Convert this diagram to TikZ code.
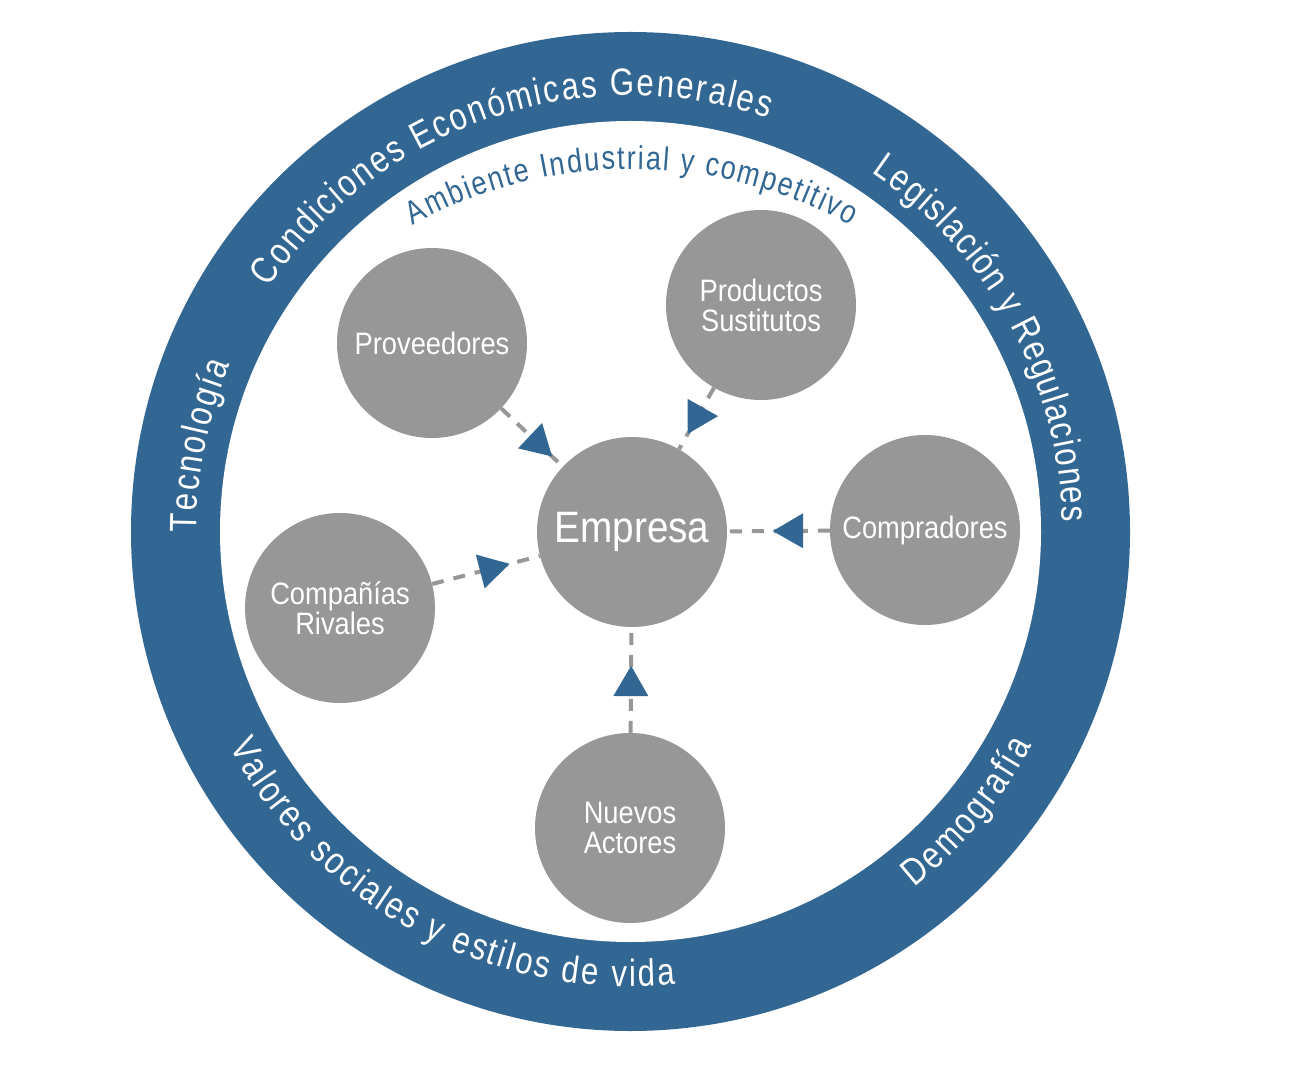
\documentclass[tikz,border=0pt]{standalone}
\usepackage{fontspec}
\setmainfont{Liberation Sans}
\newfontfamily\ringfam[FakeStretch=0.82]{Liberation Sans}
\newfontfamily\nodefam[FakeStretch=0.88]{Liberation Sans}
\usetikzlibrary{calc,decorations.text,decorations.markings}
\definecolor{ringblue}{RGB}{50,103,147}
\definecolor{circgray}{RGB}{151,151,151}
\tikzset{
  bubble/.style={circle, fill=circgray, minimum size=190pt, inner sep=0pt,
    text=white, align=center, font=\nodefam\fontsize{31}{30}\selectfont},
  conn/.style={draw=circgray, line width=4pt, dash pattern=on 12pt off 10pt},
  arrowconn/.style={conn, postaction={decorate, decoration={markings,
    mark=at position #1 with {\fill[ringblue] (0,0) -- (-30.3,17.5) -- (-30.3,-17.5) -- cycle;}}}},
  ringtext/.style={decorate, decoration={text along path, text align=fit to path,
    text color=#1}},
}
\begin{document}
\begin{tikzpicture}[x=1pt,y=1pt]
\useasboundingbox (0,0) rectangle (1300,1080);
\fill[white] (0,0) rectangle (1300,1080);
\coordinate (C) at (630.5,548.5);
\coordinate (C2) at (631.5,457);
% ring
\fill[ringblue] (C) circle[radius=499.5];
\fill[white] (C) circle[radius=410.5];
% ring texts
\path[ringtext=white, decoration={text={|\ringfam\fontsize{38}{38}\selectfont|Condiciones Económicas Generales}}]
  ($(C)+(146:436)$) arc[start angle=146, end angle=71.6, radius=436];
\path[ringtext=white, decoration={text={|\ringfam\fontsize{38}{38}\selectfont|Legislación y Regulaciones}}]
  ($(C)+(56.1:432)$) arc[start angle=56.1, end angle=1.3, radius=432];
\path[ringtext=white, decoration={text={|\ringfam\fontsize{38}{38}\selectfont|Tecnología}}]
  ($(C)+(180.1:434)$) arc[start angle=180.1, end angle=157.3, radius=434];
\path[ringtext=white, decoration={text={|\ringfam\fontsize{38}{38}\selectfont|Valores sociales y estilos de vida}}]
  ($(C)+(208.2:455)$) arc[start angle=208.2, end angle=275.6, radius=455];
\path[ringtext=white, decoration={text={|\ringfam\fontsize{38}{38}\selectfont|Demografía}}]
  ($(C)+(308.6:455)$) arc[start angle=308.6, end angle=331.9, radius=455];
\path[ringtext=ringblue, decoration={text={|\ringfam\fontsize{33}{33}\selectfont|Ambiente Industrial y competitivo}}]
  ($(C2)+(118.8:454)$) arc[start angle=118.8, end angle=61.2, radius=454];
% bubbles
\node[bubble, font=\nodefam\fontsize{44}{44}\selectfont] (emp) at (632,548) {Empresa};
\node[bubble] (prov) at (432,737) {Proveedores};
\node[bubble] (prod) at (761,775) {Productos\\Sustitutos};
\node[bubble] (comp) at (925,550) {Compradores};
\node[bubble] (riv) at (340,472) {Compañías\\Rivales};
\node[bubble] (nue) at (630,252) {Nuevos\\Actores};
% connectors
\draw[arrowconn=70pt] (prov) -- (emp);
\draw[arrowconn=53pt] (prod) -- (emp);
\draw[arrowconn=57pt] (comp) -- (emp);
\draw[arrowconn=80pt] (riv) -- (emp);
\draw[arrowconn=67pt] (nue) -- (emp);
\end{tikzpicture}
\end{document}
